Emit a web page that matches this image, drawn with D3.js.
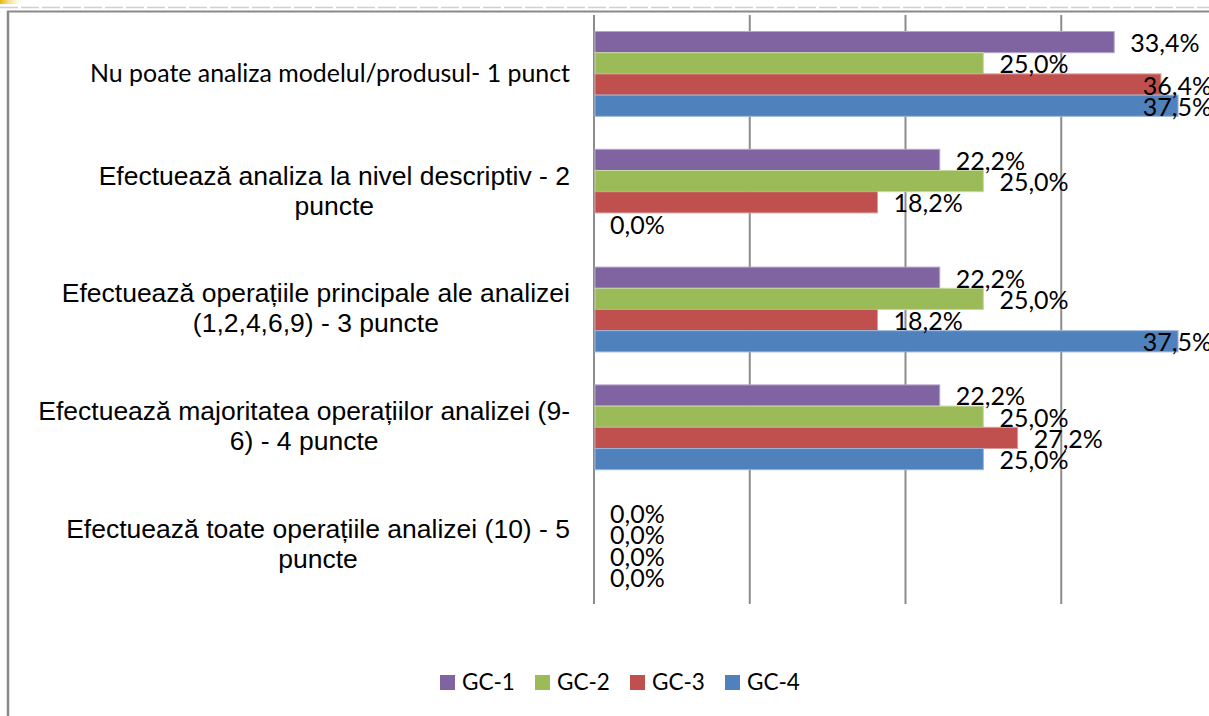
<!DOCTYPE html>
<html>
<head>
<meta charset="utf-8">
<script src="https://cdn.jsdelivr.net/npm/d3@7"></script>
<style>
  html, body { margin: 0; padding: 0; background: #ffffff; }
  svg { display: block; }
</style>
</head>
<body>
<svg id="chart" width="1209" height="716"></svg>
<script>
// Category labels (line breaks as they wrap on the axis)
const categories = [
  "Nu poate analiza modelul/produsul- 1 punct",
  "Efectuează analiza la nivel descriptiv - 2\npuncte",
  "Efectuează operațiile principale ale analizei\n(1,2,4,6,9) - 3 puncte",
  "Efectuează majoritatea operațiilor analizei (9-\n6) - 4 puncte",
  "Efectuează toate operațiile analizei (10) - 5\npuncte"
];
// Series, in percent
const seriesNames = ["GC-1", "GC-2", "GC-3", "GC-4"];
const gc1 = [33.4, 22.2, 22.2, 22.2, 0];
const gc2 = [25.0, 25.0, 25.0, 25.0, 0];
const gc3 = [36.4, 18.2, 18.2, 27.2, 0];
const gc4 = [37.5, 0.0, 37.5, 25.0, 0];
const seriesValues = [gc1, gc2, gc3, gc4];
const seriesColors = ["#8064A2", "#9BBB59", "#C0504D", "#4F81BD"];
const seriesEdges = ["#b5a6cc", "#c6d9a0", "#dc9a98", "#9ab5db"];
const gridTicks = [0, 10, 20, 30, 40];

const svg = d3.select("#chart");
const W = 1209, H = 716;

// Outer frame pieces
const defs = svg.append("defs");
const grad = defs.append("linearGradient").attr("id", "corner");
grad.append("stop").attr("offset", "0%").attr("stop-color", "#e6b800");
grad.append("stop").attr("offset", "100%").attr("stop-color", "#ffffff").attr("stop-opacity", 0);
svg.append("rect").attr("x", 0).attr("y", 0).attr("width", 26).attr("height", 4).attr("fill", "url(#corner)");
svg.append("line").attr("x1", 0).attr("x2", W).attr("y1", 7.5).attr("y2", 7.5)
  .attr("stroke", "#cfcfcf").attr("stroke-width", 1.5).attr("stroke-dasharray", "18,3");
svg.append("line").attr("x1", 7).attr("x2", W).attr("y1", 11.5).attr("y2", 11.5)
  .attr("stroke", "#8a8a8a").attr("stroke-width", 2);
svg.append("line").attr("x1", 8).attr("x2", 8).attr("y1", 11).attr("y2", H)
  .attr("stroke", "#8a8a8a").attr("stroke-width", 2.5);

// Scales
const plotTop = 15, plotBottom = 604;
const x = d3.scaleLinear().domain([0, 40]).range([594, 1217]);
const y = d3.scaleBand().domain(d3.range(categories.length)).range([plotTop, plotBottom]).paddingInner(0).paddingOuter(0);
const inner = d3.scaleBand().domain(d3.range(seriesNames.length))
  .range([y.bandwidth() * 0.14, y.bandwidth() * 0.86]);

// Vertical gridlines and value axis line
svg.append("g").selectAll("line").data(gridTicks).join("line")
  .attr("x1", d => x(d)).attr("x2", d => x(d))
  .attr("y1", plotTop).attr("y2", plotBottom)
  .attr("stroke", "#8c8c8c").attr("stroke-width", 2);

// Bars
const groups = svg.append("g").selectAll("g").data(categories).join("g")
  .attr("transform", (d, i) => `translate(0,${y(i)})`);

groups.each(function (c, ci) {
  const g = d3.select(this);
  seriesValues.forEach((vals, si) => {
    const v = vals[ci];
    if (v > 0) {
      g.append("rect")
        .attr("x", x(0) + 1)
        .attr("y", inner(si))
        .attr("width", x(v) - x(0) - 1)
        .attr("height", inner.bandwidth())
        .attr("fill", seriesColors[si])
        .attr("stroke", seriesEdges[si])
        .attr("stroke-width", 1);
    }
  });
});

// Data labels
const fmt = v => d3.format(".1f")(v).replace(".", ",") + "%";
const labelRight = 1212;
groups.each(function (c, ci) {
  const g = d3.select(this);
  seriesValues.forEach((vals, si) => {
    const v = vals[ci];
    const t = g.append("text")
      .attr("y", inner(si) + inner.bandwidth() / 2 + 10)
      .attr("font-family", "Lato, 'Open Sans', sans-serif")
      .attr("font-size", 25)
      .attr("fill", "#000")
      .text(fmt(v));
    const w = t.node().getComputedTextLength();
    t.attr("x", Math.min(x(v) + 16, labelRight - w));
  });
});

// Category labels, centred line by line, block right-aligned to the axis
groups.each(function (c, ci) {
  const g = d3.select(this);
  const lines = c.split("\n");
  const family = ci === 0 ? "Lato, 'Open Sans', sans-serif" : "'Liberation Sans', Arial, sans-serif";
  const size = ci === 0 ? 24.9 : 26.5;
  const cy = y.bandwidth() / 2;
  const texts = lines.map((ln, li) => g.append("text")
    .attr("font-family", family)
    .attr("font-size", size)
    .attr("fill", "#000")
    .attr("text-anchor", "middle")
    .attr("y", cy + 8 + (li - (lines.length - 1) / 2) * 30)
    .text(ln));
  const maxW = d3.max(texts, t => t.node().getComputedTextLength());
  texts.forEach(t => t.attr("x", 570 - maxW / 2));
});

// Legend
const legend = svg.append("g").selectAll("g").data(seriesNames).join("g")
  .attr("transform", (d, i) => `translate(${440 + i * 95},675)`);
legend.append("rect").attr("width", 15).attr("height", 15)
  .attr("fill", (d, i) => seriesColors[i]);
legend.append("text").attr("x", 22).attr("y", 15)
  .attr("font-family", "Lato, 'Open Sans', sans-serif")
  .attr("font-size", 22.5).attr("fill", "#000")
  .text(d => d);
</script>
</body>
</html>
